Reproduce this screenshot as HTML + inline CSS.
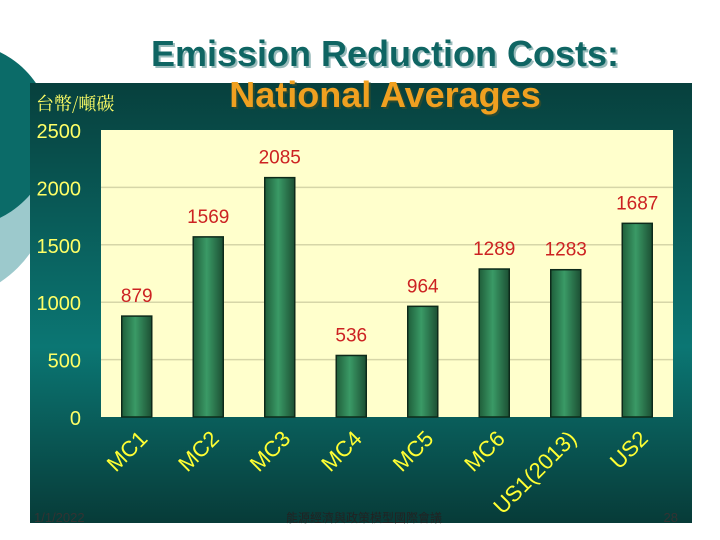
<!DOCTYPE html>
<html><head><meta charset="utf-8"><style>
body{margin:0;width:720px;height:540px;overflow:hidden;background:#fff;font-family:"Liberation Sans","Noto Sans CJK TC",sans-serif;}
svg{display:block}
</style></head><body>
<svg width="720" height="540" xmlns="http://www.w3.org/2000/svg">
<defs>
<linearGradient id="pg" x1="0" y1="0" x2="0" y2="1">
<stop offset="0" stop-color="#07403d"/><stop offset="0.6" stop-color="#0b7673"/><stop offset="1" stop-color="#073b38"/>
</linearGradient>
<linearGradient id="bg" x1="0" y1="0" x2="1" y2="0">
<stop offset="0" stop-color="#1f5e3a"/><stop offset="0.45" stop-color="#3a9a66"/><stop offset="1" stop-color="#1c4f33"/>
</linearGradient>
</defs>
<circle cx="-60" cy="190" r="110" fill="#9cc9cc"/>
<circle cx="-40" cy="135" r="92" fill="#0b6b68"/>
<rect x="30" y="83" width="662" height="440" fill="url(#pg)"/>
<rect x="101" y="130" width="572" height="287" fill="#ffffcc"/>
<g id="grid"></g><g id="bars"></g><g id="labels"></g>
<text x="387" y="68" text-anchor="middle" font-size="36" font-weight="bold" fill="#9bb">Emission Reduction Costs:</text>
<text x="385" y="66" text-anchor="middle" font-size="36" font-weight="bold" fill="#0f6563">Emission Reduction Costs:</text>
<text x="387" y="109" text-anchor="middle" font-size="36" font-weight="bold" fill="#2a4a30">National Averages</text>
<text x="385" y="107" text-anchor="middle" font-size="36" font-weight="bold" fill="#f0a020">National Averages</text>
<text x="36" y="110" font-size="18" fill="#ffff66" font-family="'Noto Serif CJK SC','Noto Sans CJK TC',serif">台幣/噸碳</text>
<text x="34" y="522" font-size="13" fill="#333">1/1/2022</text>
<text x="364" y="522" text-anchor="middle" font-size="12" fill="#222">能源經濟與政策模型國際會議</text>
<text x="678" y="522" text-anchor="end" font-size="13" fill="#333">28</text>
</svg>
<script>
const categories=["MC1","MC2","MC3","MC4","MC5","MC6","US1(2013)","US2"];
const values=[879,1569,2085,536,964,1289,1283,1687];
const yTicks=[0,500,1000,1500,2000,2500];
const NS="http://www.w3.org/2000/svg";
const L=101,R=673,T=130,B=417,maxV=2500;
const y=v=>B-(v/maxV)*(B-T);
const bw=(R-L)/categories.length;
const x=i=>L+bw*(i+0.5);
function mk(tag,attrs,parent){const e=document.createElementNS(NS,tag);for(const k in attrs)e.setAttribute(k,attrs[k]);document.getElementById(parent).appendChild(e);return e;}
yTicks.forEach(t=>{
 if(t>0&&t<maxV){const g=mk('line',{x1:L,x2:R,y1:y(t),y2:y(t),stroke:'#d6d6a8','stroke-width':1.5},'grid');
 
 }
 const tx=mk('text',{x:81,y:y(t)+8,'text-anchor':'end','font-size':20,fill:'#ffff66'},'labels');tx.textContent=t;
 
 
});
categories.forEach((c,i)=>{
 const r=mk('rect',{x:x(i)-15,y:y(values[i]),width:30,height:B-y(values[i]),fill:'url(#bg)',stroke:'#0d2a1a','stroke-width':1.5},'bars');
 
 
 const v=mk('text',{x:x(i),y:y(values[i])-14,'text-anchor':'middle','font-size':19,fill:'#cc2222'},'labels');v.textContent=values[i];
 
 
 const cx=x(i)+12,cy=440;
 const t=mk('text',{x:cx,y:cy,'text-anchor':'end','font-size':22,fill:'#ffff33',transform:'rotate(-45 '+cx+' '+cy+')'},'labels');t.textContent=c;
 
 
});
</script>
</body></html>
